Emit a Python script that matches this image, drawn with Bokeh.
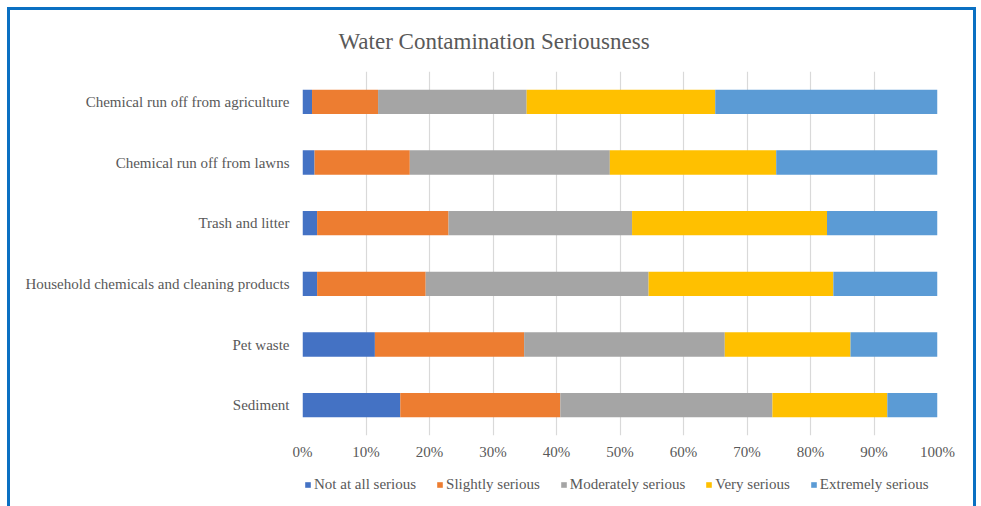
from bokeh.plotting import figure
from bokeh.layouts import column
from bokeh.models import ColumnDataSource, FactorRange, Range1d, FixedTicker, Legend, Title
from bokeh.embed import file_html
from bokeh.resources import INLINE

categories = [
    "Chemical run off from agriculture",
    "Chemical run off from lawns",
    "Trash and litter",
    "Household chemicals and cleaning products",
    "Pet waste",
    "Sediment",
]
series_names = ["Not at all serious", "Slightly serious", "Moderately serious",
                "Very serious", "Extremely serious"]
not_at_all = [1.5, 1.9, 2.3, 2.3, 11.4, 15.4]
slightly = [10.4, 15.0, 20.7, 17.1, 23.5, 25.2]
moderately = [23.4, 31.5, 28.9, 35.1, 31.6, 33.4]
very = [29.7, 26.2, 30.7, 29.1, 19.8, 18.1]
extremely = [35.0, 25.4, 17.4, 16.4, 13.7, 7.9]
tick_values = [0, 10, 20, 30, 40, 50, 60, 70, 80, 90, 100]
tick_labels = ["0%", "10%", "20%", "30%", "40%", "50%", "60%", "70%", "80%", "90%", "100%"]
colors = ["#4472C4", "#ED7D31", "#A5A5A5", "#FFC000", "#5B9BD5"]

keys = ["s0", "s1", "s2", "s3", "s4"]
data = {"cat": categories}
for k, vals in zip(keys, [not_at_all, slightly, moderately, very, extremely]):
    data[k] = vals
source = ColumnDataSource(data)

FONT = "Liberation Serif"
TXT = "#595959"

# main chart
p = figure(
    frame_width=635, frame_height=364,
    y_range=FactorRange(factors=list(reversed(categories))),
    x_range=Range1d(0, 100),
    output_backend="svg", toolbar_location=None,
    min_border_left=295, min_border_right=39, min_border_top=64, min_border_bottom=30,
)
p.border_fill_color = None

p.hbar_stack(keys, y="cat", height=0.4, color=colors, source=source, line_width=0)

p.title = Title(text="Water Contamination  Seriousness", align="left", offset=36,
                text_font=FONT, text_font_size="23px", text_color=TXT,
                text_font_style="normal", standoff=36)

p.xaxis.ticker = FixedTicker(ticks=tick_values)
p.xaxis.major_label_overrides = {v: l for v, l in zip(tick_values, tick_labels)}
for ax in (p.xaxis, p.yaxis):
    ax.axis_line_color = None
    ax.major_tick_line_color = None
    ax.minor_tick_line_color = None
    ax.major_tick_out = 0
    ax.major_tick_in = 0
    ax.major_label_text_font = FONT
    ax.major_label_text_font_size = "15px"
    ax.major_label_text_color = TXT
p.xaxis.major_label_standoff = 8
p.yaxis.major_label_standoff = 13

p.xgrid.grid_line_color = "#D9D9D9"
p.xgrid.grid_line_width = 1.2
p.ygrid.grid_line_color = None
p.outline_line_color = None

# legend strip
lp = figure(width=969, height=41, output_backend="svg", toolbar_location=None,
            x_axis_type=None, y_axis_type=None, min_border=0,
            x_range=Range1d(0, 1), y_range=Range1d(0, 1))
lp.border_fill_color = None
lp.background_fill_color = None
lp.outline_line_color = None
lp.grid.visible = False
legend_renderers = [lp.hbar(y=[0.5], left=[0], right=[0], height=0.0, color=c, line_width=0)
                    for c in colors]
legend = Legend(items=[(n, [r]) for n, r in zip(series_names, legend_renderers)],
                orientation="horizontal", location=(2, 13), ncols=5,
                label_text_font=FONT, label_text_font_size="15px", label_text_color=TXT,
                glyph_width=7, glyph_height=7, spacing=20, label_standoff=3,
                padding=4, margin=0,
                border_line_color=None, background_fill_alpha=0)
lp.add_layout(legend, "center")

layout = column(p, lp, spacing=0)
layout.margin = (7, 0, 0, 7)
layout.styles = {"box-shadow": "inset 3px 3px 0 #0A70C2, inset -3px 0 0 #0A70C2"}

open("out.html", "w").write(file_html(layout, INLINE))
